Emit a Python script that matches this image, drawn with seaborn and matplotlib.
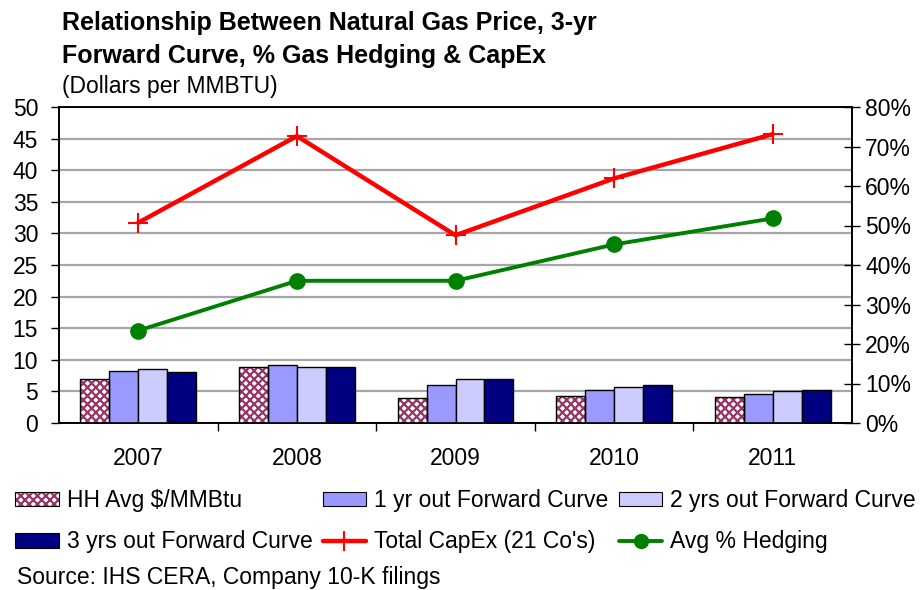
import numpy as np
import pandas as pd
import matplotlib
matplotlib.use("Agg")
import matplotlib.pyplot as plt
import seaborn as sns
from matplotlib.patches import Patch, Rectangle
from matplotlib.lines import Line2D
from matplotlib.legend_handler import HandlerTuple
from matplotlib.ticker import FixedLocator, PercentFormatter

years = ["2007", "2008", "2009", "2010", "2011"]
hh_avg = [7.0, 8.9, 3.9, 4.3, 4.1]
fwd_1yr = [8.2, 9.1, 6.0, 5.2, 4.6]
fwd_2yr = [8.5, 8.9, 6.9, 5.7, 5.0]
fwd_3yr = [8.0, 8.9, 7.0, 6.0, 5.3]
capex = [31.7, 45.4, 29.7, 38.7, 45.7]
hedging = [0.234, 0.360, 0.360, 0.452, 0.518]

series_names = ["HH Avg $/MMBtu", "1 yr out Forward Curve",
                "2 yrs out Forward Curve", "3 yrs out Forward Curve"]
bar_colors = ["#FFFFFF", "#9999FF", "#CCCCFF", "#000080"]
maroon = "#993366"

df = pd.DataFrame({
    "year": years * 4,
    "series": np.repeat(series_names, len(years)),
    "price": hh_avg + fwd_1yr + fwd_2yr + fwd_3yr,
})

sns.set_style("white")
plt.rcParams["font.family"] = ["Liberation Sans", "DejaVu Sans"]
for k in ["text.color", "axes.labelcolor", "xtick.color", "ytick.color"]:
    plt.rcParams[k] = "black"
plt.rcParams["hatch.linewidth"] = 1.6

FS = 16.5

fig = plt.figure(figsize=(9.22, 5.9), dpi=100)
ax = fig.add_axes([59 / 922, 167 / 590, 793 / 922, 316 / 590])

sns.barplot(data=df, x="year", y="price", hue="series", palette=bar_colors,
            width=0.73, edgecolor="black", linewidth=1.0, saturation=1,
            ax=ax, legend=False, zorder=3)
# checkered pattern for HH bars: maroon hatch, black outline on top
for bar in ax.containers[0]:
    bar.set_hatch("xxxx")
    bar.set_edgecolor(maroon)
    bar.set_linewidth(0)
    ax.add_patch(Rectangle(bar.get_xy(), bar.get_width(), bar.get_height(),
                           fill=False, ec="black", lw=1.0, zorder=4))

xs = np.arange(len(years))
ax.plot(xs, capex, color="#FF0000", lw=3.2, marker="+", ms=14, mew=1.5, zorder=5)

ax.set_xlim(-0.5, 4.5)
ax.set_ylim(0, 50)
ax.set_yticks(range(0, 51, 5))
ax.grid(axis="y", color="#A6A6A6", lw=1.6, zorder=0)
ax.set_axisbelow(True)
ax.set_xlabel("")
ax.set_ylabel("")
ax.tick_params(axis="y", direction="out", length=6, width=1, pad=9, labelsize=FS, left=True)
ax.tick_params(axis="x", which="major", length=0, pad=17, labelsize=FS)
ax.xaxis.set_minor_locator(FixedLocator(np.arange(0.5, 4.5, 1)))
ax.tick_params(axis="x", which="minor", direction="out", length=6, width=1, bottom=True)
for s in ax.spines.values():
    s.set_color("black")
    s.set_linewidth(1.2)

ax2 = ax.twinx()
ax2.plot(xs, hedging, color="#008000", lw=2.8, marker="o", ms=11, zorder=5)
ax2.set_ylim(0, 0.8)
ax2.set_yticks(np.arange(0, 0.81, 0.1))
ax2.yaxis.set_major_formatter(PercentFormatter(1.0, decimals=0))
ax2.tick_params(axis="y", direction="inout", length=11, width=1, pad=4, labelsize=FS, right=True)
ax2.grid(False)
for s in ax2.spines.values():
    s.set_color("black")
    s.set_linewidth(1.2)

fig.text(62 / 922, 1 - 30 / 590, "Relationship Between Natural Gas Price, 3-yr",
         fontsize=18, fontweight="bold", va="baseline")
fig.text(62 / 922, 1 - 63 / 590, "Forward Curve, % Gas Hedging & CapEx",
         fontsize=18, fontweight="bold", va="baseline")
fig.text(62 / 922, 1 - 93 / 590, "(Dollars per MMBTU)", fontsize=FS, va="baseline")
fig.text(17 / 922, 1 - 584 / 590, "Source: IHS CERA, Company 10-K filings",
         fontsize=FS, va="baseline")

h_hh = (Patch(facecolor="white", edgecolor=maroon, hatch="xxxx", lw=0),
        Patch(fill=False, edgecolor="black", lw=0.8))
h_1 = Patch(facecolor=bar_colors[1], edgecolor="black", lw=0.8)
h_2 = Patch(facecolor=bar_colors[2], edgecolor="black", lw=0.8)
h_3 = Patch(facecolor=bar_colors[3], edgecolor="black", lw=0.8)
h_cx = Line2D([], [], color="#FF0000", lw=3.2, marker="+", ms=14, mew=1.5)
h_hg = Line2D([], [], color="#008000", lw=2.8, marker="o", ms=10)
handles = [h_hh, h_3, h_1, h_cx, h_2, h_hg]
labels = [series_names[0], series_names[3], series_names[1],
          "Total CapEx (21 Co's)", series_names[2], "Avg % Hedging"]
fig.legend(handles, labels, loc="upper left", bbox_to_anchor=(15 / 922, 1 - 489 / 590),
           ncol=3, frameon=False, fontsize=FS, handlelength=1.9, handleheight=0.6,
           handletextpad=0.35, columnspacing=0.45, labelspacing=0.8,
           borderpad=0, borderaxespad=0,
           handler_map={tuple: HandlerTuple(ndivide=1)})

fig.savefig("out.png", dpi=100)
